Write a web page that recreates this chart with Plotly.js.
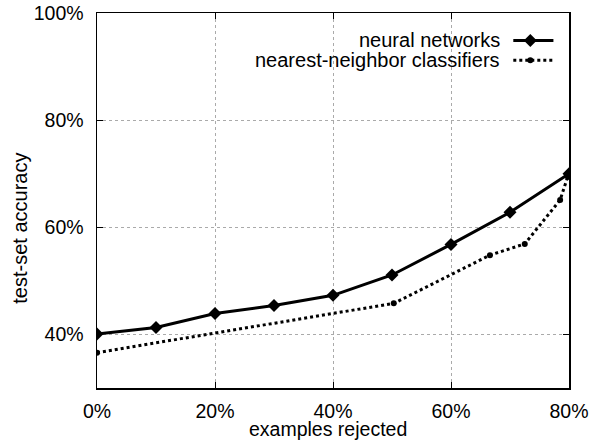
<!DOCTYPE html>
<html>
<head>
<meta charset="utf-8">
<script src="https://cdn.plot.ly/plotly-3.0.1.min.js"></script>
<style>html,body{margin:0;padding:0;background:#fff;}#chart{width:591px;height:441px;}</style>
</head>
<body>
<div id="chart"></div>
<script>
// Data
const nnRejected = [0, 10, 20, 30, 40, 50, 60, 70, 80];
const nnAccuracy = [40.1, 41.3, 43.9, 45.4, 47.3, 51.1, 56.8, 62.8, 70.0];
const knnRejected = [0, 50.3, 66.6, 72.5, 78.5, 79.8];
const knnAccuracy = [36.6, 45.8, 54.8, 56.9, 65.1, 69.5];
const seriesNames = ["neural networks", "nearest-neighbor classifiers"];
const xTickVals = [0, 20, 40, 60, 80];
const xTickText = ["0%", "20%", "40%", "60%", "80%"];
const yTickVals = [40, 60, 80, 100];
const yTickText = ["40%", "60%", "80%", "100%"];

const FONT = "Liberation Sans, Arial, sans-serif";

// legend layout (on a hidden 0..1 axis pair)
const legX0 = 0.882, legX1 = 0.967, legXm = 0.918;
const legY = [0.927, 0.874];

const traces = [
  {x: nnRejected, y: nnAccuracy, type: 'scatter', mode: 'lines+markers', name: seriesNames[0],
   line: {color: '#000', width: 3}, marker: {symbol: 'diamond', size: 10, color: '#000'}, showlegend: false},
  {x: knnRejected, y: knnAccuracy, type: 'scatter', mode: 'lines+markers', name: seriesNames[1],
   line: {color: '#000', width: 3, dash: '3px,3px'}, marker: {symbol: 'circle', size: 6, color: '#000'}, showlegend: false},
  // legend samples
  {x: [legX0, legX1], y: [legY[0], legY[0]], xaxis: 'x2', yaxis: 'y2', mode: 'lines', type: 'scatter',
   line: {color: '#000', width: 3}, showlegend: false, hoverinfo: 'skip'},
  {x: [legXm], y: [legY[0]], xaxis: 'x2', yaxis: 'y2', mode: 'markers', type: 'scatter',
   marker: {symbol: 'diamond', size: 10, color: '#000'}, showlegend: false, hoverinfo: 'skip'},
  {x: [legX0, legX1], y: [legY[1], legY[1]], xaxis: 'x2', yaxis: 'y2', mode: 'lines', type: 'scatter',
   line: {color: '#000', width: 3, dash: '3px,3px'}, showlegend: false, hoverinfo: 'skip'},
  {x: [legXm], y: [legY[1]], xaxis: 'x2', yaxis: 'y2', mode: 'markers', type: 'scatter',
   marker: {symbol: 'circle', size: 6, color: '#000'}, showlegend: false, hoverinfo: 'skip'}
];

const layout = {
  width: 591, height: 441,
  margin: {l: 97, r: 22, t: 13, b: 53, pad: 0},
  paper_bgcolor: '#fff', plot_bgcolor: '#fff',
  font: {family: FONT, size: 19, color: '#000'},
  showlegend: false,
  xaxis: {
    range: [0, 80], tickvals: xTickVals, ticktext: xTickText,
    ticks: 'inside', ticklen: 6, tickcolor: '#000', tickwidth: 1,
    showline: true, linecolor: '#000', linewidth: 1.5, mirror: 'ticks',
    showgrid: true, gridcolor: '#aaa', griddash: 'dot', gridwidth: 1,
    zeroline: false, tickfont: {family: FONT, size: 19.5}, ticklabelstandoff: 5
  },
  yaxis: {
    range: [30, 100], tickvals: yTickVals, ticktext: yTickText,
    ticks: 'inside', ticklen: 6, tickcolor: '#000', tickwidth: 1,
    showline: true, linecolor: '#000', linewidth: 1.5, mirror: 'ticks',
    showgrid: true, gridcolor: '#aaa', griddash: 'dot', gridwidth: 1,
    zeroline: false, tickfont: {family: FONT, size: 19.5}, ticklabelstandoff: 8
  },
  xaxis2: {overlaying: 'x', range: [0, 1], visible: false, fixedrange: true},
  yaxis2: {overlaying: 'y', range: [0, 1], visible: false, fixedrange: true},
  annotations: [
    {text: 'examples rejected', xref: 'paper', yref: 'paper', x: 0.49, y: -0.109,
     xanchor: 'center', yanchor: 'middle', showarrow: false, font: {family: FONT, size: 19.5}},
    {text: 'test-set accuracy', xref: 'paper', yref: 'paper', x: -0.163, y: 0.425, textangle: -90,
     xanchor: 'center', yanchor: 'middle', showarrow: false, font: {family: FONT, size: 20}},
    {text: seriesNames[0], xref: 'paper', yref: 'paper', x: 0.857, y: legY[0],
     xanchor: 'right', yanchor: 'middle', showarrow: false, font: {family: FONT, size: 20}},
    {text: seriesNames[1], xref: 'paper', yref: 'paper', x: 0.857, y: legY[1],
     xanchor: 'right', yanchor: 'middle', showarrow: false, font: {family: FONT, size: 20}}
  ]
};

Plotly.newPlot('chart', traces, layout, {staticPlot: true, displayModeBar: false});
</script>
</body>
</html>
